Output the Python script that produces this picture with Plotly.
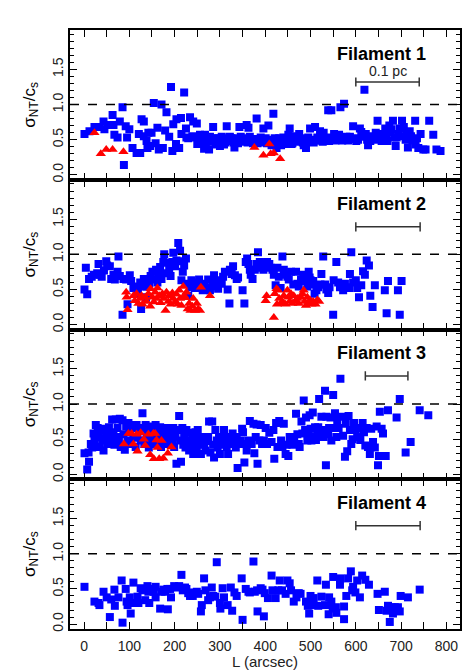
import plotly.graph_objects as go
from plotly.subplots import make_subplots

# Filament 1
f1_blue_x = [1, 12, 23, 34, 43, 45, 52, 63, 65, 67, 74, 79, 85, 88, 92, 95, 100, 107, 116, 121,
             124, 127, 132, 132, 138, 140, 142, 146, 149, 154, 158, 162, 165, 171, 174, 179, 182, 188, 192, 195,
             197, 203, 204, 210, 214, 215, 221, 225, 226, 230, 234, 239, 241, 245, 249, 250, 256, 260, 265, 267,
             271, 276, 278, 285, 287, 293, 296, 300, 304, 309, 315, 317, 322, 327, 332, 337, 343, 346, 351, 359,
             363, 366, 371, 375, 381, 385, 390, 396, 401, 407, 410, 414, 418, 421, 425, 431, 435, 440, 445, 451,
             454, 458, 462, 469, 475, 480, 485, 490, 495, 499, 504, 510, 515, 521, 524, 529, 535, 539, 545, 546,
             552, 557, 563, 566, 570, 574, 579, 587, 594, 598, 601, 609, 612, 619, 622, 627, 632, 638, 644, 648,
             651, 657, 660, 665, 670, 674, 679, 682, 686, 688, 694, 697, 702, 706, 710, 715, 719, 725, 731, 732,
             738, 743, 749, 754, 762, 771, 778, 787,
             252, 258, 263, 269, 274, 281, 289, 291, 298, 302, 307, 312, 319, 325, 330, 335, 340, 348, 354, 357,
             361, 368, 373, 378, 383, 388, 393, 398, 404, 412, 416, 423, 428, 433, 438, 443, 448, 456, 460, 466,
             472, 478, 483, 488, 493, 501, 507, 513, 518, 527, 533, 541, 549, 555, 560, 568, 577, 583, 590, 605,
             615, 625, 635, 641, 654, 662, 668, 677, 690, 700, 712, 722, 735]
f1_blue_y = [0.58, 0.62, 0.68, 0.68, 0.76, 0.65, 0.71, 0.85, 0.71, 0.57, 0.53, 0.76, 0.96, 0.14, 0.69, 0.53, 0.65, 0.38, 0.31, 0.58,
             0.31, 0.79, 0.76, 0.55, 0.48, 0.38, 0.60, 0.41, 0.60, 1.02, 0.45, 0.67, 0.36, 1.00, 0.38, 0.63, 0.89, 0.54, 1.25, 0.34,
             0.72, 0.44, 0.79, 0.38, 0.81, 0.58, 1.17, 0.66, 0.53, 0.52, 0.82, 0.55, 0.76, 0.53, 0.73, 0.44, 0.57, 0.53, 0.37, 0.57,
             0.52, 0.36, 0.54, 0.68, 0.49, 0.43, 0.52, 0.41, 0.54, 0.43, 0.69, 0.52, 0.54, 0.48, 0.39, 0.52, 0.68, 0.54, 0.48, 0.71,
             0.67, 0.54, 0.49, 0.48, 0.80, 0.48, 0.53, 0.66, 0.52, 0.70, 0.49, 0.42, 0.87, 0.52, 0.38, 0.52, 0.42, 0.53, 0.44, 0.57,
             0.66, 0.44, 0.55, 0.49, 0.58, 0.52, 0.42, 0.38, 0.53, 0.66, 0.48, 0.68, 0.53, 0.62, 0.49, 0.60, 0.52, 0.92, 0.53, 0.92,
             0.58, 0.54, 0.57, 0.96, 0.49, 1.01, 0.54, 0.54, 0.69, 0.52, 0.48, 0.66, 0.61, 1.21, 0.58, 0.42, 0.48, 0.53, 0.60, 0.77,
             0.52, 0.48, 0.58, 0.66, 0.48, 0.70, 0.65, 0.77, 0.53, 0.41, 0.58, 0.66, 0.77, 0.68, 0.50, 0.39, 0.62, 0.49, 0.77, 0.43,
             0.38, 0.58, 0.36, 0.36, 0.77, 0.57, 0.36, 0.34,
             0.50, 0.47, 0.51, 0.46, 0.50, 0.47, 0.52, 0.46, 0.50, 0.47, 0.51, 0.46, 0.49, 0.52, 0.46, 0.49, 0.45, 0.50, 0.47, 0.52,
             0.46, 0.51, 0.45, 0.51, 0.45, 0.49, 0.46, 0.48, 0.45, 0.47, 0.50, 0.46, 0.48, 0.45, 0.49, 0.47, 0.50, 0.48, 0.45, 0.51,
             0.47, 0.49, 0.46, 0.50, 0.47, 0.50, 0.46, 0.49, 0.51, 0.47, 0.50, 0.48, 0.50, 0.49, 0.51, 0.53, 0.50, 0.49, 0.51, 0.50,
             0.54, 0.50, 0.55, 0.50, 0.55, 0.51, 0.56, 0.60, 0.53, 0.55, 0.58, 0.55, 0.52]
f1_red_x = [23, 37, 49, 63, 87, 376, 396, 409, 412, 419, 433]
f1_red_y = [0.60, 0.30, 0.36, 0.36, 0.33, 0.39, 0.28, 0.44, 0.30, 0.31, 0.23]

# Filament 2
f2_blue_x = [1, 4, 7, 11, 17, 22, 29, 32, 35, 39, 44, 49, 51, 57, 60, 65, 68, 74, 76, 79,
             85, 87, 93, 96, 101, 104, 109, 115, 119, 124, 126, 129, 132, 137, 138, 144, 147, 151, 155, 159,
             162, 164, 168, 171, 175, 177, 180, 184, 188, 191, 195, 197, 201, 204, 208, 212, 214, 215, 218, 221,
             225, 228, 230, 234, 237, 241, 245, 249, 254, 257, 262, 265, 271, 274, 278, 284, 287, 289, 293, 296,
             300, 304, 307, 311, 317, 321, 322, 326, 329, 333, 337, 340, 350, 354, 357, 360, 363, 366, 368, 372,
             377, 381, 384, 388, 392, 396, 401, 404, 409, 412, 416, 419, 423, 427, 430, 434, 438, 441, 443, 449,
             452, 457, 462, 468, 471, 474, 479, 484, 489, 493, 496, 498, 500, 502, 506, 509, 513, 517, 522, 524,
             528, 532, 535, 539, 542, 550, 551, 557, 561, 565, 572, 576, 579, 585, 587, 590, 594, 600, 603, 607,
             612, 616, 620, 624, 629, 632, 637, 642, 664, 668, 671, 693, 697, 701]
f2_blue_y = [0.50, 0.81, 0.43, 0.65, 0.68, 0.71, 0.73, 0.86, 0.71, 0.68, 0.77, 0.90, 0.84, 0.83, 0.65, 0.71, 0.64, 0.75, 0.97, 0.69,
             0.14, 0.65, 0.64, 0.29, 0.70, 0.62, 0.52, 0.54, 0.45, 0.60, 0.22, 0.54, 0.65, 0.39, 0.54, 0.58, 0.69, 0.75, 0.64, 0.78,
             0.60, 0.71, 0.82, 0.65, 0.89, 1.00, 0.73, 0.88, 0.78, 0.69, 0.89, 1.02, 0.83, 0.91, 1.16, 1.05, 0.90, 0.63, 0.75, 0.84,
             0.94, 0.58, 0.41, 0.53, 0.63, 0.57, 0.52, 0.60, 0.64, 0.54, 0.49, 0.58, 0.53, 0.64, 0.49, 0.54, 0.70, 0.62, 0.57, 0.51,
             0.63, 0.58, 0.68, 0.75, 0.50, 0.30, 0.78, 0.72, 0.83, 0.70, 0.65, 0.67, 0.49, 0.30, 0.89, 0.94, 0.86, 0.78, 0.71, 0.65,
             0.78, 0.86, 1.03, 0.89, 0.81, 0.78, 0.86, 0.89, 0.86, 0.81, 0.78, 0.71, 0.56, 0.81, 0.68, 0.52, 0.97, 0.78, 0.71, 0.68,
             0.64, 0.75, 0.57, 0.75, 0.58, 0.54, 0.64, 0.71, 0.62, 0.54, 0.75, 0.67, 0.63, 0.57, 0.62, 0.44, 0.49, 0.53, 0.57, 0.72,
             0.97, 0.57, 0.50, 0.45, 0.53, 0.14, 0.63, 0.89, 0.60, 0.53, 0.49, 0.58, 0.53, 0.52, 0.72, 1.03, 0.60, 0.63, 0.52, 0.39,
             0.56, 0.76, 0.71, 0.91, 0.84, 0.41, 0.25, 0.56, 0.49, 0.16, 0.62, 0.49, 0.14, 0.62]
f2_red_x = [93, 96, 94, 109, 112, 116, 120, 124, 127, 129, 135, 138, 142, 146, 147, 151, 154, 157, 160, 162,
            166, 169, 173, 176, 180, 182, 186, 188, 191, 195, 197, 201, 204, 207, 210, 212, 215, 219, 221, 223,
            226, 229, 232, 235, 239, 241, 245, 249, 252, 256, 258, 278,
            403, 401, 419, 421, 425, 428, 426, 431, 434, 438, 441, 445, 449, 451, 454, 457, 460, 463, 467, 471,
            474, 479, 482, 485, 487, 490, 493, 496, 499, 502, 506, 511, 515, 519]
f2_red_y = [0.46, 0.21, 0.39, 0.41, 0.34, 0.44, 0.30, 0.37, 0.41, 0.29, 0.39, 0.33, 0.44, 0.26, 0.51, 0.39, 0.32, 0.46, 0.37, 0.52,
            0.41, 0.31, 0.44, 0.37, 0.20, 0.46, 0.33, 0.41, 0.29, 0.45, 0.37, 0.32, 0.43, 0.29, 0.49, 0.37, 0.27, 0.54, 0.41, 0.38,
            0.46, 0.22, 0.30, 0.20, 0.26, 0.37, 0.20, 0.30, 0.22, 0.20, 0.53, 0.41,
            0.41, 0.34, 0.10, 0.44, 0.51, 0.49, 0.29, 0.37, 0.30, 0.33, 0.41, 0.29, 0.49, 0.39, 0.33, 0.44, 0.30, 0.41, 0.34, 0.37,
            0.30, 0.39, 0.44, 0.49, 0.33, 0.27, 0.39, 0.30, 0.35, 0.29, 0.33, 0.29, 0.35, 0.33]

# Filament 3
f3_blue_x = [1, 7, 11, 10, 15, 18, 21, 23, 26, 28, 30, 33, 35, 37, 40, 43, 45, 48, 50, 52,
             55, 57, 60, 62, 65, 67, 70, 72, 74, 77, 79, 81, 85, 87, 90, 93, 96, 98, 100, 103,
             105, 109, 111, 114, 116, 118, 122, 125, 129, 131, 133, 136, 138, 140, 143, 146, 148, 151, 153, 155,
             158, 160, 162, 165, 168, 170, 173, 175, 177, 180, 182, 185, 188, 190, 192, 195, 197, 199, 202, 204,
             207, 210, 212, 214, 217, 219, 221, 224, 226, 229, 232, 234, 236, 239, 241, 243, 246, 249, 251, 254,
             256, 258, 261, 263, 265, 268, 271, 274, 276, 279, 283, 285, 287, 290, 293, 295, 298, 300, 302, 306,
             309, 313, 315, 318, 322, 324, 328, 332, 335, 337, 339, 342, 346, 349, 351, 354, 357, 359, 363, 366,
             370, 374, 376, 379, 381, 383, 387, 390, 393, 397, 401, 404, 409, 414, 418, 420, 424, 427, 431, 435,
             438, 441, 445, 447, 451, 454, 458, 460, 464, 468, 471, 474, 476, 480, 482, 485, 488, 490, 493, 496,
             498, 500, 502, 505, 507, 510, 512, 515, 517, 519, 522, 524, 526, 529, 532, 534, 535, 539, 541, 544,
             546, 550, 551, 554, 557, 559, 562, 566, 568, 572, 576, 578, 581, 584, 587, 590, 593, 596, 600, 603,
             607, 610, 615, 618, 621, 624, 627, 631, 634, 638, 642, 646, 649, 651, 653, 657, 660, 666, 671, 690,
             697, 710, 721, 741, 760]
f3_blue_y = [0.30, 0.07, 0.18, 0.31, 0.43, 0.38, 0.58, 0.48, 0.70, 0.39, 0.66, 0.53, 0.39, 0.63, 0.50, 0.34, 0.65, 0.48, 0.58, 0.43,
             0.67, 0.53, 0.48, 0.78, 0.60, 0.42, 0.78, 0.53, 0.66, 0.48, 0.79, 0.39, 0.77, 0.57, 0.35, 0.68, 0.48, 0.73, 0.60, 0.43,
             0.70, 0.52, 0.66, 0.39, 0.70, 0.53, 0.62, 0.48, 0.87, 0.66, 0.43, 0.70, 0.53, 0.63, 0.38, 0.66, 0.48, 0.68, 0.55, 0.43,
             0.70, 0.53, 0.63, 0.48, 0.67, 0.39, 0.63, 0.54, 0.66, 0.48, 0.62, 0.43, 0.66, 0.53, 0.60, 0.48, 0.66, 0.39, 0.53, 0.15,
             0.63, 0.83, 0.48, 0.18, 0.66, 0.42, 0.55, 0.38, 0.63, 0.48, 0.34, 0.59, 0.43, 0.53, 0.29, 0.48, 0.60, 0.38, 0.63, 0.48,
             0.53, 0.29, 0.42, 0.53, 0.43, 0.34, 0.47, 0.53, 0.75, 0.31, 0.75, 0.42, 0.24, 0.63, 0.48, 0.38, 0.53, 0.29, 0.42, 0.48,
             0.63, 0.53, 0.39, 0.29, 0.43, 0.48, 0.58, 0.48, 0.38, 0.53, 0.09, 0.43, 0.48, 0.65, 0.60, 0.17, 0.43, 0.34, 0.48, 0.76,
             0.43, 0.72, 0.30, 0.53, 0.71, 0.15, 0.48, 0.70, 0.43, 0.48, 0.66, 0.43, 0.59, 0.46, 0.63, 0.22, 0.73, 0.39, 0.76, 0.48,
             0.39, 0.72, 0.29, 0.42, 0.26, 0.53, 0.48, 0.42, 0.53, 0.86, 0.57, 0.43, 0.39, 0.75, 0.58, 1.05, 0.63, 0.81, 0.48, 0.58,
             0.84, 0.65, 0.48, 0.88, 0.53, 0.67, 0.49, 0.58, 0.67, 1.07, 0.53, 0.82, 0.63, 0.53, 1.19, 0.13, 0.82, 0.57, 0.66, 0.81,
             0.48, 1.13, 0.66, 0.87, 0.53, 0.77, 0.66, 1.36, 0.82, 0.55, 0.25, 0.72, 0.33, 0.83, 0.63, 0.43, 0.50, 0.73, 0.63, 0.53,
             0.66, 0.49, 0.73, 0.60, 0.41, 0.66, 0.39, 0.29, 0.65, 0.46, 0.38, 0.68, 0.13, 0.26, 0.89, 0.65, 0.58, 0.26, 0.91, 0.81,
             1.07, 0.31, 0.46, 0.91, 0.84]
f3_red_x = [88, 98, 105, 109, 116, 118, 125, 132, 135, 142, 146, 153, 154, 157, 160, 162, 166, 171, 175, 185, 193]
f3_red_y = [0.43, 0.58, 0.58, 0.43, 0.57, 0.33, 0.59, 0.50, 0.41, 0.57, 0.28, 0.58, 0.22, 0.58, 0.49, 0.38, 0.22, 0.48, 0.23, 0.30, 0.39]

# Filament 4
f4_blue_x = [1, 23, 32, 34, 43, 50, 57, 60, 67, 68, 76, 83, 85, 92, 94, 96, 101, 103, 109, 111,
             118, 120, 125, 129, 135, 140, 142, 144, 149, 154, 158, 158, 168, 171, 175, 179, 184, 185, 190, 192,
             199, 204, 210, 215, 218, 223, 226, 230, 234, 240, 243, 249, 252, 258, 260, 265, 268, 274, 278, 282,
             285, 290, 293, 300, 301, 306, 309, 317, 324, 327, 332, 337, 348, 350, 357, 363, 366, 374, 377, 382,
             383, 390, 394, 397, 399, 406, 414, 416, 423, 429, 432, 437, 445, 449, 454, 457, 463, 469, 474, 478,
             490, 494, 497, 500, 504, 507, 515, 517, 524, 532, 534, 541, 540, 546, 549, 550, 556, 557, 565, 566,
             574, 574, 579, 583, 589, 592, 594, 599, 603, 609, 614, 621, 629, 648, 651, 664, 668, 671, 675, 679,
             682, 686, 693, 697, 699, 715, 741]
f4_blue_y = [0.53, 0.32, 0.30, 0.27, 0.46, 0.38, 0.10, 0.35, 0.49, 0.26, 0.38, 0.62, 0.02, 0.50, 0.32, 0.27, 0.38, 0.15, 0.59, 0.30,
             0.39, 0.30, 0.51, 0.48, 0.34, 0.54, 0.46, 0.30, 0.50, 0.46, 0.53, 0.38, 0.22, 0.46, 0.49, 0.46, 0.50, 0.21, 0.50, 0.38,
             0.54, 0.52, 0.54, 0.70, 0.48, 0.52, 0.50, 0.44, 0.40, 0.40, 0.45, 0.46, 0.43, 0.18, 0.27, 0.65, 0.48, 0.34, 0.38, 0.52,
             0.40, 0.39, 0.88, 0.30, 0.22, 0.51, 0.38, 0.27, 0.52, 0.19, 0.45, 0.40, 0.65, 0.06, 0.50, 0.46, 0.45, 0.89, 0.46, 0.48,
             0.18, 0.51, 0.49, 0.11, 0.44, 0.37, 0.69, 0.48, 0.37, 0.48, 0.62, 0.48, 0.43, 0.62, 0.58, 0.48, 0.32, 0.38, 0.44, 0.43,
             0.32, 0.26, 0.15, 0.40, 0.27, 0.37, 0.62, 0.26, 0.39, 0.27, 0.56, 0.38, 0.14, 0.32, 0.22, 0.67, 0.24, 0.16, 0.56, 0.65,
             0.25, 0.07, 0.40, 0.65, 0.75, 0.48, 0.53, 0.45, 0.62, 0.38, 0.69, 0.63, 0.56, 0.43, 0.20, 0.46, 0.19, 0.26, 0.03, 0.24,
             0.15, 0.24, 0.24, 0.18, 0.40, 0.38, 0.49]

panel_names = ["Filament 1", "Filament 2", "Filament 3", "Filament 4"]
scale_start = [600, 600, 621, 600]
scale_end = [740, 742, 715, 742]
scale_y = [1.32, 1.39, 1.40, 1.40]
scale_text = "0.1 pc"

blue = [(f1_blue_x, f1_blue_y), (f2_blue_x, f2_blue_y), (f3_blue_x, f3_blue_y), (f4_blue_x, f4_blue_y)]
red = [(f1_red_x, f1_red_y), (f2_red_x, f2_red_y), (f3_red_x, f3_red_y), ([], [])]

fig = make_subplots(rows=4, cols=1, shared_xaxes=True, vertical_spacing=0)

for i in range(4):
    r = i + 1
    bx, by = blue[i]
    fig.add_trace(go.Scatter(x=bx, y=by, mode="markers",
                             marker=dict(symbol="square", size=8, color="#0000ff", line=dict(width=0)),
                             showlegend=False), row=r, col=1)
    rx, ry = red[i]
    if rx:
        fig.add_trace(go.Scatter(x=rx, y=ry, mode="markers",
                                 marker=dict(symbol="triangle-up", size=9, color="#ff0000", line=dict(width=0)),
                                 showlegend=False), row=r, col=1)

    xa = "x" if r == 1 else "x%d" % r
    ya = "y" if r == 1 else "y%d" % r

    # dashed sonic line
    fig.add_shape(type="line", xref=xa + " domain", yref=ya, x0=0, x1=1, y0=1, y1=1,
                  line=dict(color="black", width=1.5, dash="dash"))

    # scale bar
    x0, x1, yb = scale_start[i], scale_end[i], scale_y[i]
    bar = dict(color="#333333", width=1.5)
    fig.add_shape(type="line", xref=xa, yref=ya, x0=x0, x1=x1, y0=yb, y1=yb, line=bar)
    fig.add_shape(type="line", xref=xa, yref=ya, x0=x0, x1=x0, y0=yb - 0.065, y1=yb + 0.065, line=bar)
    fig.add_shape(type="line", xref=xa, yref=ya, x0=x1, x1=x1, y0=yb - 0.065, y1=yb + 0.065, line=bar)
    if i == 0:
        fig.add_annotation(x=(x0 + x1) / 2, y=yb, xref=xa, yref=ya, text=scale_text, showarrow=False,
                           yanchor="bottom", yshift=1, font=dict(size=14, color="#222222"))

    fig.add_annotation(x=760, y=1.72, xref=xa, yref=ya, text="<b>%s</b>" % panel_names[i],
                       showarrow=False, xanchor="right", yanchor="middle",
                       font=dict(size=18, color="black"))

    fig.update_yaxes(range=[-0.07, 2.06], tickvals=[0, 0.5, 1.0, 1.5], ticktext=["0.0", "0.5", "1.0", "1.5"],
                     tickangle=-90, ticks="inside", ticklen=7, tickwidth=1.2, tickcolor="black",
                     minor=dict(dtick=0.1, tick0=0, ticks="inside", ticklen=4, tickwidth=1, tickcolor="black"),
                     showline=True, linecolor="black", linewidth=1.5, mirror="ticks",
                     showgrid=False, zeroline=False, automargin=False,
                     tickfont=dict(size=14, color="#222222"),
                     title=dict(text="σ<sub>NT</sub>/c<sub>s</sub>", font=dict(size=17, color="black"), standoff=10),
                     row=r, col=1)

fig.update_xaxes(range=[-31, 830], tickvals=[0, 100, 200, 300, 400, 500, 600, 700, 800],
                 ticks="inside", ticklen=7, tickwidth=1.2, tickcolor="black",
                 minor=dict(dtick=50, tick0=0, ticks="inside", ticklen=7, tickwidth=1.2, tickcolor="black"),
                 showline=True, linecolor="black", linewidth=1.5, mirror="ticks",
                 showgrid=False, zeroline=False, automargin=False, ticklabelstandoff=3,
                 tickfont=dict(size=14, color="#222222"))
fig.update_xaxes(title=dict(text="L (arcsec)", font=dict(size=15, color="#222222"), standoff=7), row=4, col=1)

# the page body has an 8px margin, so the figure is a bit smaller than the window
fig.update_layout(width=462, height=662, margin=dict(l=62, r=10, t=22, b=41),
                  paper_bgcolor="white", plot_bgcolor="white",
                  font=dict(family="Liberation Sans, Arial, sans-serif"))

fig.write_html("out.html")
